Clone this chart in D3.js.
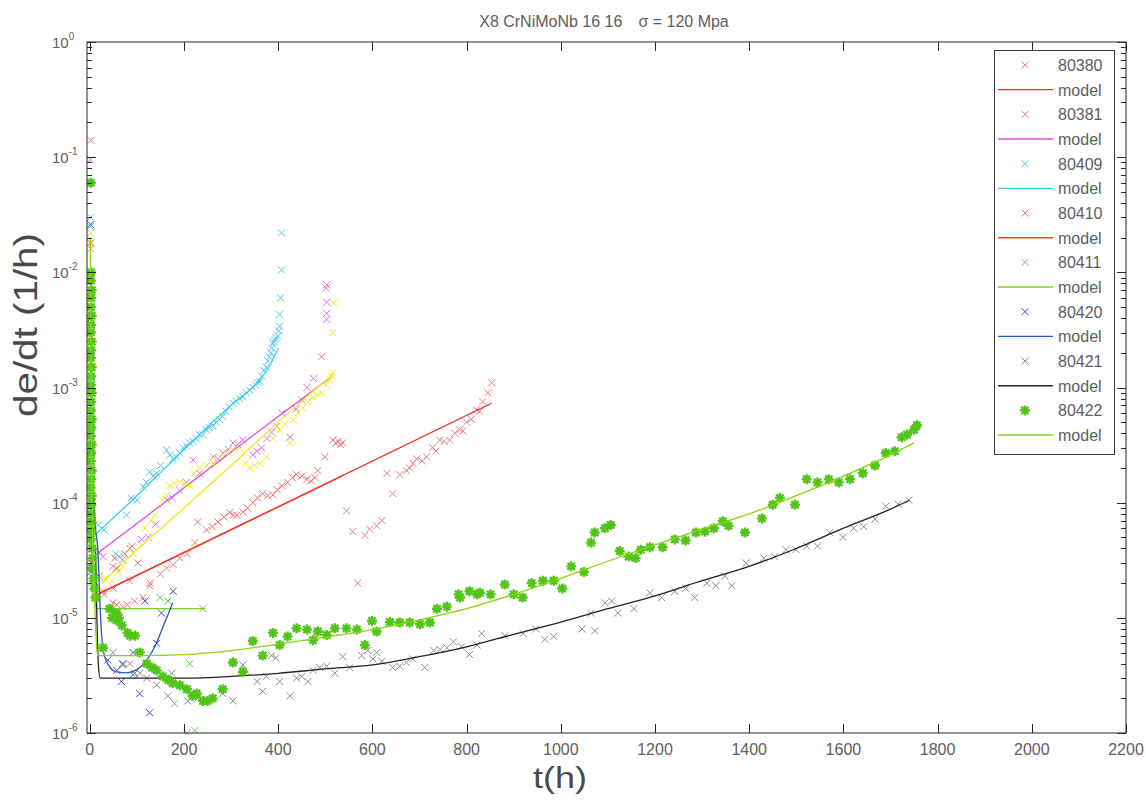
<!DOCTYPE html>
<html><head><meta charset="utf-8">
<script src="https://cdn.jsdelivr.net/npm/d3@7/dist/d3.min.js"></script>
<style>
body{margin:0;background:#fff}
svg{display:block}
text{font-family:"Liberation Sans",Arial,Helvetica,sans-serif}
</style>
</head><body>
<svg id="chart" width="1146" height="801"></svg>
<script>
// ---------- texts & ticks ----------
const titleMain = "X8 CrNiMoNb 16 16";
const titleStress = "\u03c3 = 120 Mpa";
const xLabel = "t(h)";
const yLabel = "de/dt (1/h)";
const xTicks = [0,200,400,600,800,1000,1200,1400,1600,1800,2000,2200];
const yTickExps = [0,-1,-2,-3,-4,-5,-6];
const legendNames = ["80380","80381","80409","80410","80411","80420","80421","80422"];

// ---------- data: [t (h), de/dt (1/h)] ----------
const d80380 = [[2,0.14],[3,9e-3],[2,3e-3],[4,4e-4],[3,1.5e-4],[5,4e-5],[10,2.2e-5],
 [28,1.7e-5],[50,1.8e-5],[85,2.1e-5],[128,2e-5],[150,2.4e-5],[163,2.7e-5],[177,2.9e-5],[191,3.3e-5],[206,3.6e-5],[223,4.5e-5],
 [545,8.5e-5],[558,5.6e-5],[569,2e-5],[584,5.2e-5],[594,5.9e-5],[609,6.3e-5],[620,7e-5],[631,1.8e-4],[643,1.2e-4],[658,1.75e-4],
 [672,1.9e-4],[679,2.0e-4],[686,2.2e-4],[694,2.4e-4],[705,2.3e-4],[715,2.5e-4],[728,3.0e-4],[735,2.8e-4],[743,3.5e-4],[752,3.4e-4],
 [764,3.5e-4],[775,4e-4],[785,4.3e-4],[792,4.2e-4],[800,5e-4],[810,5.3e-4],[821,6.4e-4],[828,6.2e-4],[834,7.5e-4],[845,9e-4],[853,1.1e-3]];
const m80380 = [[10,1.55e-5],[853,7.3e-4]];

const d80381 = [[1,9.5e-2],[2,1.6e-2],[3,5e-3],[2,2e-3],[4,7e-4],[3,3e-4],[5,1e-4],[4,5e-5],[2,3e-5],
 [21,3.7e-5],[28,3.4e-5],[49,2.8e-5],[70,3.2e-5],[90,4.2e-5],[110,4.8e-5],[124,5e-5],[140,6.5e-5],[163,1.06e-4],[175,1.1e-4],
 [191,1.27e-4],[205,1.5e-4],[219,2.35e-4],[233,1.8e-4],[248,2.1e-4],[262,2.5e-4],[272,2.4e-4],[283,2.7e-4],[294,2.9e-4],[304,3.3e-4],
 [314,3.2e-4],[325,3.5e-4],[346,2.6e-4],[355,2.8e-4],[365,3e-4],[376,3.6e-4],[386,4.1e-4],[397,4.6e-4],[408,6e-4],[425,3.7e-4],
 [438,6.5e-4],[450,7.8e-4],[461,1e-3],[475,1.2e-3],[492,1.85e-3],[503,3.9e-3],[503,4.4e-3],[503,5.5e-3],[502,7.3e-3],[503,7.8e-3]];
const m80381 = [[15,3.6e-5],[100,6.6e-5],[200,1.35e-4],[300,2.75e-4],[400,5.6e-4],[510,1.21e-3]];

const d80409 = [[2,3e-2],[1,2.5e-2],[3,7e-3],[2,3e-3],[4,1.2e-3],[3,5e-4],[5,2e-4],[4,1e-4],
 [18,6.4e-5],[30,5.8e-5],[55,3.6e-5],[62,3.4e-5],[78,7.8e-5],[88,1.1e-4],[100,1.05e-4],[113,1.37e-4],[120,1.5e-4],[127,1.85e-4],
 [135,1.7e-4],[142,1.8e-4],[150,2.1e-4],[163,2.87e-4],[170,2.6e-4],[177,2.4e-4],[184,2.5e-4],[191,2.7e-4],[198,3e-4],[205,3.1e-4],
 [212,3.3e-4],[219,3.4e-4],[226,3.6e-4],[233,3.9e-4],[240,3.9e-4],[247,4.3e-4],[254,4.5e-4],[261,4.6e-4],[268,5e-4],[275,5.3e-4],
 [282,5.6e-4],[289,6.2e-4],[296,6.8e-4],[304,7.3e-4],[310,7.6e-4],[318,8e-4],[325,8.3e-4],[332,9e-4],[339,9.5e-4],[346,1e-3],
 [352,1.05e-3],[356,1.1e-3],[361,1.12e-3],[365,1.25e-3],[370,1.4e-3],[375,1.5e-3],[378,1.7e-3],[381,1.85e-3],[384,2e-3],[386,2.2e-3],
 [389,2.4e-3],[391,2.5e-3],[393,2.6e-3],[396,2.7e-3],[399,2.8e-3],[401,3.1e-3],[403,3.4e-3],[403,4.3e-3],[405,6e-3],[407,1.05e-2],[407,2.2e-2]];
const m80409 = [[12,5.3e-5],[100,1.15e-4],[200,2.9e-4],[300,7e-4],[350,1.05e-3],[380,1.5e-3],[400,2.2e-3]];

const d80410 = [[1,1.8e-2],[3,6e-3],[2,1.5e-3],[4,6e-4],[3,2e-4],[5,3e-5],
 [20,2.3e-5],[30,1.6e-5],[49,1.35e-5],[57,1.3e-5],[70,1.25e-5],[80,1.3e-5],[95,1.4e-5],[113,1.5e-5],[127,1.9e-5],
 [53,3.3e-5],[57,2.7e-5],[74,3.6e-5],[85,4e-5],[102,3e-5],
 [229,6.8e-5],[248,5.8e-5],[260,6.2e-5],[272,6.8e-5],[285,7.5e-5],[297,8.2e-5],[305,7.8e-5],[312,7.8e-5],[325,8.3e-5],[335,9e-5],
 [346,1e-4],[356,1.1e-4],[367,1.2e-4],[378,1.15e-4],[389,1.17e-4],[398,1.3e-4],[408,1.4e-4],[420,1.5e-4],[430,1.65e-4],[439,1.75e-4],
 [450,1.7e-4],[461,1.6e-4],[470,1.55e-4],[478,1.65e-4],[484,1.9e-4],[499,2.5e-4],[516,3.5e-4],[522,3.3e-4],[527,3.4e-4],[532,3.2e-4],[537,3.3e-4]];
const m80410 = [[10,1.55e-5],[540,1.74e-4]];

const d80411 = [[1,1e-2],[2,5e-3],[3,1e-3],[4,3e-4],[2,1e-4],[5,5e-5],[3,2e-5],
 [149,1.5e-5],[166,1.4e-5],[180,1.8e-6],[206,1e-6],[212,4e-6],[223,1.05e-6],[240,1.2e-5]];
const m80411 = [[1,5e-3],[5,6e-5],[10,1.5e-5],[15,1.2e-5],[245,1.2e-5]];

const dYellow = [[2,2.2e-2],[3,1.8e-2],[2,4e-3],[4,1.5e-3],[3,5e-4],[5,1.5e-4],[4,6e-5],
 [32,2.2e-5],[47,2.1e-5],[60,2.5e-5],[70,2.8e-5],[92,3.6e-5],[105,4.5e-5],[117,6e-5],[130,7e-5],[138,7.8e-5],[155,1.06e-4],
 [163,1.15e-4],[170,1.4e-4],[180,1.45e-4],[191,1.5e-4],[200,1.45e-4],[212,1.4e-4],[222,1.8e-4],[233,2.0e-4],[248,2.1e-4],
 [262,2.2e-4],[276,2.5e-4],[290,2.7e-4],[304,2.9e-4],[318,3e-4],[330,2.2e-4],[340,2.0e-4],[350,2.1e-4],[361,2.2e-4],[375,2.5e-4],
 [389,3.6e-4],[403,4.3e-4],[415,4.8e-4],[425,3.3e-4],[432,5.2e-4],[442,6e-4],[452,6.6e-4],[463,7.5e-4],[474,8.3e-4],[483,8.6e-4],
 [492,9e-4],[502,1.05e-3],[510,1.17e-3],[514,1.25e-3],[516,1.35e-3],[516,3e-3],[518,5.4e-3]];
const mYellow = [[25,2e-5],[100,3.9e-5],[200,9e-5],[300,2.1e-4],[400,5e-4],[516,1.3e-3]];

const d80420 = [[2,2.6e-2],[3,6e-3],[2,4e-3],[4,9e-4],[3,4e-4],[5,1e-4],[4,8e-5],[3,4.5e-5],[2,2.5e-5],
 [38,4.3e-6],[57,3.5e-6],[67,2.8e-6],[70,4e-6],[92,5e-6],[95,3.3e-6],[106,2.2e-6],[117,1.4e-5],[127,1.5e-6],[142,6e-6],[152,1.1e-5],[177,1.7e-5]];
const m80420 = [[8,1.2e-4],[12,6e-5],[17,3.9e-5],[22,1.2e-5],[28,5.3e-6],[42,3.76e-6],[57,3.4e-6],[79,3.33e-6],[100,3.55e-6],
 [121,4.3e-6],[142,6.1e-6],[155,8.3e-6],[170,1.17e-5],[176,1.35e-5]];

const d80421 = [[2,9e-3],[3,2e-3],[4,3.5e-4],[3,2.8e-4],[5,1e-4],[4,4e-5],
 [49,5e-6],[70,3.9e-6],[85,4e-6],[92,3.2e-6],[106,3.3e-6],[121,3e-6],[142,2.6e-6],[166,2.1e-6],[174,3.3e-6],[208,1.9e-6],[229,2e-6],
 [282,2.2e-6],[304,1.9e-6],[325,3.9e-6],[355,2.8e-6],[367,2.3e-6],[375,3.1e-6],[386,4.7e-6],[395,4.5e-6],[403,2.8e-6],[425,2.1e-6],
 [439,3e-6],[450,3.1e-6],[463,2.8e-6],[474,3.5e-6],[488,3.7e-6],[503,3.8e-6],[520,3.3e-6],[537,4.6e-6],[552,3.7e-6],[577,4.7e-6],
 [590,5.2e-6],[601,4.4e-6],[609,5e-6],[620,4.2e-6],[643,3.7e-6],[658,3.8e-6],[672,4.1e-6],[686,4.4e-6],[711,3.7e-6],[730,5.2e-6],
 [744,5.3e-6],[758,5.5e-6],[772,6.2e-6],[789,5.6e-6],[806,4.8e-6],[822,5.8e-6],[832,7.3e-6],[881,7e-6],[920,7.3e-6],[947,8e-6],
 [966,6.5e-6],[985,6.9e-6],[1045,8e-6],[1064,1.1e-5],[1072,7.7e-6],[1094,1.35e-5],[1108,1.4e-5],[1121,1.1e-5],[1155,1.2e-5],
 [1189,1.65e-5],[1214,1.5e-5],[1242,1.7e-5],[1265,1.8e-5],[1284,1.5e-5],[1310,2e-5],[1329,1.9e-5],[1348,2.3e-5],[1363,1.9e-5],
 [1393,3e-5],[1431,3.3e-5],[1454,3.4e-5],[1478,3.9e-5],[1499,3.9e-5],[1522,4.2e-5],[1545,4.2e-5],[1571,5.5e-5],[1599,5e-5],
 [1622,6e-5],[1643,6.2e-5],[1667,7.2e-5],[1690,9.3e-5],[1716,9.7e-5],[1739,1.05e-4]];
const m80421 = [[12,4e-5],[15,1e-5],[18,4e-6],[22,3e-6],[100,3e-6],[200,3e-6],[300,3.1e-6],[400,3.3e-6],[500,3.6e-6],[600,3.9e-6],
 [700,4.6e-6],[800,5.6e-6],[900,7.2e-6],[1000,9.2e-6],[1100,1.2e-5],[1200,1.55e-5],[1300,2.1e-5],[1400,2.8e-5],[1500,4e-5],
 [1600,6e-5],[1700,8.8e-5],[1740,1.05e-4]];

const d80422 = [[2,6e-2],[3,1e-2],[2,8.5e-3],[4,7e-3],[3,6e-3],[2,5e-3],[4,4.2e-3],[3,3.5e-3],[2,3e-3],[4,2.5e-3],[3,2.1e-3],
 [2,1.8e-3],[4,1.5e-3],[3,1.25e-3],[2,1.05e-3],[4,9e-4],[3,7.5e-4],[2,6.3e-4],[4,5.3e-4],[3,4.5e-4],[2,3.8e-4],[4,3.2e-4],
 [3,2.7e-4],[2,2.3e-4],[4,1.9e-4],[3,1.6e-4],[2,1.35e-4],[4,1.15e-4],[3,9.5e-5],[2,8e-5],[4,6.8e-5],[3,5.7e-5],[2,4.8e-5],
 [5,4e-5],[6,3.3e-5],[5,2.7e-5],[8,2.2e-5],[10,1.8e-5],[12,1.5e-5],
 [42,1.2e-5],[47,1e-5],[57,1.1e-5],[57,9.5e-6],[62,1.0e-5],[68,8.6e-6],[85,7e-6],[80,7.4e-6],[96,7e-6],[28,5.5e-6],[106,5e-6],
 [121,4e-6],[132,3.7e-6],[142,3.5e-6],[155,3.1e-6],[166,2.9e-6],[176,2.7e-6],[191,2.6e-6],[206,2.4e-6],[218,2.1e-6],[227,2.2e-6],
 [240,1.9e-6],[250,1.9e-6],[261,2e-6],[282,2.4e-6],[304,4.1e-6],[325,3.4e-6],[346,6.3e-6],[367,4.7e-6],[389,7.4e-6],[403,5.8e-6],
 [420,6.9e-6],[439,8.1e-6],[461,7.9e-6],[474,6.4e-6],[484,7.6e-6],[503,7.1e-6],[520,8.1e-6],[545,8.1e-6],[567,7.9e-6],[584,5.8e-6],
 [599,9.4e-6],[609,7.6e-6],[637,9.2e-6],[658,9.1e-6],[679,9.1e-6],[701,8.8e-6],[722,9.1e-6],[737,1.2e-5],[758,1.25e-5],[783,1.6e-5],
 [786,1.5e-5],[806,1.7e-5],[822,1.6e-5],[828,1.65e-5],[851,1.6e-5],[881,1.95e-5],[900,1.6e-5],[919,1.5e-5],[938,2.0e-5],[962,2.1e-5],
 [985,2.1e-5],[1003,1.8e-5],[1022,2.8e-5],[1049,2.5e-5],[1064,4.5e-5],[1072,5.5e-5],[1094,6e-5],[1106,6.4e-5],[1125,3.8e-5],
 [1144,3.4e-5],[1159,3.3e-5],[1170,3.9e-5],[1189,4.1e-5],[1216,4.1e-5],[1242,4.8e-5],[1265,4.7e-5],[1287,5.5e-5],[1306,5.6e-5],
 [1325,6e-5],[1344,6.9e-5],[1356,6.3e-5],[1391,5.5e-5],[1427,7.3e-5],[1450,9.6e-5],[1465,1.1e-4],[1497,9.6e-5],[1522,1.6e-4],
 [1545,1.5e-4],[1569,1.6e-4],[1590,1.5e-4],[1614,1.6e-4],[1641,1.8e-4],[1667,2.1e-4],[1690,2.7e-4],[1709,2.8e-4],[1724,3.7e-4],
 [1735,3.9e-4],[1750,4.3e-4],[1756,4.7e-4]];
const m80422 = [[1,2e-2],[4,1e-4],[9,2e-5],[14,6e-6],[17,4.7e-6],[100,4.7e-6],[200,4.8e-6],[300,5.2e-6],[400,5.9e-6],[500,6.8e-6],
 [600,7.9e-6],[700,9.6e-6],[800,1.2e-5],[900,1.6e-5],[1000,2.2e-5],[1100,3.1e-5],[1200,4.3e-5],[1300,5.9e-5],[1400,8e-5],
 [1500,1.15e-4],[1600,1.7e-4],[1700,2.6e-4],[1750,3.3e-4]];

// ---------- styles ----------
const series = [
  {name:"80380", pts:d80380, model:m80380, mColor:"#e87c7c", lColor:"#f22a2a", marker:"x"},
  {name:"80381", pts:d80381, model:m80381, mColor:"#e06ce0", lColor:"#e04ce0", marker:"x"},
  {name:null,    pts:dYellow, model:mYellow, mColor:"#f0ec1e", lColor:"#eeea10", marker:"x"},
  {name:"80409", pts:d80409, model:m80409, mColor:"#4cc4ee", lColor:"#38d0ec", marker:"x"},
  {name:"80410", pts:d80410, model:m80410, mColor:"#ee7070", lColor:"#f23c24", marker:"x"},
  {name:"80411", pts:d80411, model:m80411, mColor:"#66cc44", lColor:"#7ed21a", marker:"x"},
  {name:"80420", pts:d80420, model:m80420, mColor:"#3a4cc8", lColor:"#2458c0", marker:"x"},
  {name:"80421", pts:d80421, model:m80421, mColor:"#8c8c8c", lColor:"#222222", marker:"x"},
  {name:"80422", pts:d80422, model:m80422, mColor:"#52c41a", lColor:"#8ad60a", marker:"star"}
];

// ---------- layout ----------
const svg = d3.select("#chart");
const L = 87, R = 1126, T = 42, B = 733;
const x = d3.scaleLinear().domain([-6, 2200]).range([L, R]);
const y = d3.scaleLog().domain([1e-6, 1]).range([B, T]);
const txtColor = "#5e5e5e";

svg.append("rect").attr("width",1146).attr("height",801).attr("fill","#fff");
svg.append("defs").append("clipPath").attr("id","clip")
  .append("rect").attr("x",L).attr("y",T-4).attr("width",R-L+4).attr("height",B-T+6);

const plot = svg.append("g").attr("clip-path","url(#clip)");
const line = d3.line().x(d=>x(d[0])).y(d=>y(d[1])).curve(d3.curveMonotoneX);
const xPath = "M-3.5,-3.5L3.5,3.5M-3.5,3.5L3.5,-3.5";
const starPath = "M-5,0L5,0M0,-5L0,5M-3.6,-3.6L3.6,3.6M-3.6,3.6L3.6,-3.6";

function drawMarker(g, type, color){
  if(type==="star"){
    g.append("path").attr("d",starPath).attr("stroke",color).attr("stroke-width",2.4).attr("fill","none");
    g.append("circle").attr("r",2.4).attr("fill",color);
  } else {
    g.append("path").attr("d",xPath).attr("stroke",color).attr("stroke-width",1).attr("fill","none");
  }
}

series.forEach(s=>{
  const g = plot.append("g");
  s.pts.forEach(p=>{
    const m = g.append("g").attr("transform",`translate(${x(p[0])},${y(p[1])})`);
    drawMarker(m, s.marker, s.mColor);
  });
  plot.append("path").datum(s.model).attr("d",line)
    .attr("fill","none").attr("stroke",s.lColor).attr("stroke-width",1.3);
});

// ---------- axes box & ticks ----------
const ax = svg.append("g").attr("stroke","#2a2a2a").attr("stroke-width",1).attr("fill","none");
ax.append("rect").attr("x",L).attr("y",T).attr("width",R-L).attr("height",B-T);
xTicks.forEach(t=>{
  const px = Math.round(x(t))+0.5;
  ax.append("line").attr("x1",px).attr("x2",px).attr("y1",B).attr("y2",B-9);
  ax.append("line").attr("x1",px).attr("x2",px).attr("y1",T).attr("y2",T+9);
});
yTickExps.forEach(e=>{
  const py = Math.round(y(Math.pow(10,e)))+0.5;
  ax.append("line").attr("x1",L).attr("x2",L+9).attr("y1",py).attr("y2",py);
  ax.append("line").attr("x1",R).attr("x2",R-9).attr("y1",py).attr("y2",py);
  if(e>-6){
    for(let m=2;m<=9;m++){
      const pm = Math.round(y(m*Math.pow(10,e-1)))+0.5;
      ax.append("line").attr("x1",L).attr("x2",L+5).attr("y1",pm).attr("y2",pm);
      ax.append("line").attr("x1",R).attr("x2",R-5).attr("y1",pm).attr("y2",pm);
    }
  }
});

// tick labels
xTicks.forEach(t=>{
  svg.append("text").attr("x",x(t)).attr("y",755).attr("text-anchor","middle")
    .attr("font-size",16).attr("fill",txtColor).text(t);
});
yTickExps.forEach(e=>{
  const py = y(Math.pow(10,e));
  const tx = svg.append("text").attr("x",52).attr("y",py+6).attr("font-size",15).attr("fill",txtColor).text("10");
  tx.append("tspan").attr("dy",-8).attr("font-size",10).text(e===0?"0":String(e));
});

// title & axis labels
const tt = svg.append("text").attr("x",604).attr("y",27).attr("text-anchor","middle")
  .attr("font-size",16).attr("fill",txtColor).text(titleMain);
tt.append("tspan").attr("dx",16).text(titleStress);

svg.append("text").attr("x",560).attr("y",788).attr("text-anchor","middle")
  .attr("font-size",29).attr("fill","#4a4a4a").attr("textLength",54).attr("lengthAdjust","spacingAndGlyphs").text(xLabel);
svg.append("text").attr("transform","translate(37,325) rotate(-90)").attr("text-anchor","middle")
  .attr("font-size",33).attr("fill","#4a4a4a").attr("textLength",184).attr("lengthAdjust","spacingAndGlyphs").text(yLabel);

// ---------- legend ----------
const lg = svg.append("g");
lg.append("rect").attr("x",994.5).attr("y",50.5).attr("width",120).attr("height",404)
  .attr("fill","#fff").attr("stroke","#3a3a3a").attr("stroke-width",1);
const rowH = 24.67;
let row = 0;
legendNames.forEach(n=>{
  const s = series.find(d=>d.name===n);
  const cy1 = 65 + row*rowH;
  const mg = lg.append("g").attr("transform",`translate(1025,${cy1})`);
  drawMarker(mg, s.marker, s.mColor);
  lg.append("text").attr("x",1058).attr("y",cy1+6).attr("font-size",16).attr("fill",txtColor).text(n);
  row++;
  const cy2 = 65 + row*rowH;
  lg.append("line").attr("x1",998).attr("x2",1053).attr("y1",cy2).attr("y2",cy2)
    .attr("stroke",s.lColor).attr("stroke-width",1.4);
  lg.append("text").attr("x",1058).attr("y",cy2+6).attr("font-size",16).attr("fill",txtColor).text("model");
  row++;
});
</script>
</body></html>
